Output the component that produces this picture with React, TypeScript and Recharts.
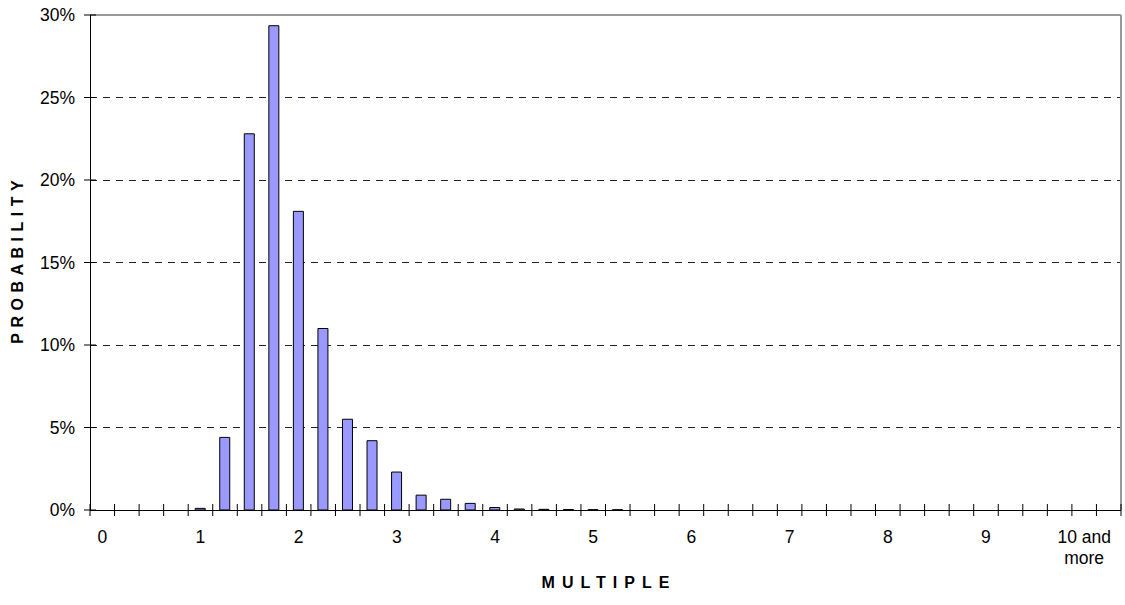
import React from 'react';
import {
  BarChart,
  Bar,
  XAxis,
  YAxis,
  CartesianGrid,
  ReferenceLine,
} from 'recharts';

// Histogram of the multiple, 0.25-wide bins (42 bins, last one unlabeled).

const CATEGORY_LABELS: string[] = [
  '0', '', '', '',
  '1', '', '', '',
  '2', '', '', '',
  '3', '', '', '',
  '4', '', '', '',
  '5', '', '', '',
  '6', '', '', '',
  '7', '', '', '',
  '8', '', '', '',
  '9', '', '', '',
  '10 and\nmore', '',
];

// probability per bin (fraction)
const PROBABILITY: number[] = [
  0, 0, 0, 0,
  0.001, 0.044, 0.228, 0.2935,
  0.181, 0.11, 0.055, 0.042,
  0.023, 0.009, 0.0065, 0.004,
  0.0015, 0.0006, 0.0004, 0.0003,
  0.0002, 0.00015, 0, 0,
  0, 0, 0, 0,
  0, 0, 0, 0,
  0, 0, 0, 0,
  0, 0, 0, 0,
  0, 0,
];

const Y_TICKS = [0, 0.05, 0.1, 0.15, 0.2, 0.25, 0.3];

const BIN_COUNT = CATEGORY_LABELS.length;

// bin boundaries (tick marks) + bin centres that carry a label
const BOUNDARY_TICKS = Array.from({ length: BIN_COUNT + 1 }, (_, i) => i);
const LABEL_TICKS = CATEGORY_LABELS.map((l, i) => (l ? i + 0.5 : -1)).filter((v) => v >= 0);
const X_TICKS = [...BOUNDARY_TICKS, ...LABEL_TICKS].sort((a, b) => a - b);

const data = PROBABILITY.map((p, i) => ({ x: i + 0.5, p, label: CATEGORY_LABELS[i] }));

const FONT = '"Liberation Sans", Arial, sans-serif';
const TICK_FONT_SIZE = 17.5;

function XTick(props: any) {
  const { x, y, payload } = props;
  const v = payload.value as number;
  if (Number.isInteger(v)) {
    return <line x1={x} x2={x} y1={y - 6} y2={y + 6} stroke="#000" strokeWidth={1} />;
  }
  const label = CATEGORY_LABELS[Math.floor(v)] ?? '';
  const lines = label.split('\n');
  return (
    <text x={x} y={y + 33} textAnchor="middle" fontSize={TICK_FONT_SIZE} fontFamily={FONT} fill="#000">
      {lines.map((l, i) => (
        <tspan key={i} x={x} dy={i === 0 ? 0 : 21}>
          {l}
        </tspan>
      ))}
    </text>
  );
}

function YTick(props: any) {
  const { x, y, payload } = props;
  return (
    <g>
      <line x1={x - 6} x2={x + 6} y1={y} y2={y} stroke="#000" strokeWidth={1} />
      <text
        x={x - 15}
        y={y}
        dy="0.35em"
        textAnchor="end"
        fontSize={TICK_FONT_SIZE}
        fontFamily={FONT}
        fill="#000"
      >
        {`${Math.round(payload.value * 100)}%`}
      </text>
    </g>
  );
}

export default function App() {
  return (
    <div style={{ position: 'absolute', left: 0, top: 0, width: 1125, height: 605, background: '#fff' }}>
      <style>{`.recharts-cartesian-grid line, .recharts-reference-line line, .recharts-cartesian-axis line { shape-rendering: crispEdges; }`}</style>
      <BarChart
        width={1125}
        height={605}
        data={data}
        margin={{ top: 15, right: 4, bottom: 0, left: 0 }}
      >
        <CartesianGrid vertical={false} stroke="#222" strokeDasharray="7 6" />
        <XAxis
          dataKey="x"
          type="number"
          domain={[0, BIN_COUNT]}
          ticks={X_TICKS}
          interval={0}
          height={95}
          tickSize={0}
          tickMargin={0}
          tickLine={false}
          axisLine={false}
          tick={<XTick />}
        />
        <YAxis
          domain={[0, 0.3]}
          ticks={Y_TICKS}
          interval={0}
          width={90}
          tickSize={0}
          tickMargin={0}
          tickLine={false}
          axisLine={{ stroke: '#000' }}
          tick={<YTick />}
        />
        <ReferenceLine y={0.3} stroke="#999" strokeWidth={1.5} />
        <ReferenceLine x={BIN_COUNT} stroke="#999" strokeWidth={1.5} />
        <ReferenceLine y={0} stroke="#000" strokeWidth={1} />
        <Bar
          dataKey="p"
          barSize={10}
          fill="#9999FF"
          stroke="#000"
          strokeWidth={1}
          isAnimationActive={false}
        />
      </BarChart>
      <div
        style={{
          position: 'absolute',
          left: 90,
          width: 1031,
          top: 574,
          paddingLeft: 7,
          boxSizing: 'border-box',
          textAlign: 'center',
          fontFamily: FONT,
          fontWeight: 'bold',
          fontSize: 16,
          letterSpacing: 7,
          lineHeight: '18px',
          color: '#000',
        }}
      >
        MULTIPLE
      </div>
      <div
        style={{
          position: 'absolute',
          left: 18,
          top: 262,
          paddingLeft: 5.5,
          transform: 'translate(-50%, -50%) rotate(-90deg)',
          whiteSpace: 'nowrap',
          fontFamily: FONT,
          fontWeight: 'bold',
          fontSize: 16,
          letterSpacing: 5.5,
          lineHeight: '18px',
          color: '#000',
        }}
      >
        PROBABILITY
      </div>
    </div>
  );
}
